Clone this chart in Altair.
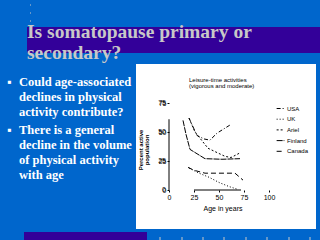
import altair as alt
import pandas as pd

# ---- data ----
series_names = ["USA", "UK", "Ariel", "Finland", "Canada"]
usa_age = [20, 28, 35, 41, 48, 61]
usa_val = [62, 47, 44, 43, 49, 56]
uk_age = [20, 30, 40, 50, 60, 69]
uk_val = [19, 14.5, 11, 6.5, 3, 0.5]
ariel_age = [20, 26, 39, 56, 62, 71]
ariel_val = [62, 50, 36, 29, 28, 32]
finland_age = [14, 17, 21, 36, 53, 71]
finland_val = [60, 48, 35, 27, 26.5, 27]
canada_age = [19, 25, 36, 50, 66, 74]
canada_val = [19.5, 17, 14.5, 14.5, 14.5, 8.5]
x_ticks = [0, 25, 50, 75, 100]
y_ticks = [0, 25, 50, 75]
frame_x = [25, 72]
frame_y = [0, 61]

slide_title = "Is somatopause primary or\nsecondary?"
bullet_1 = "Could age-associated\ndeclines in physical\nactivity  contribute?"
bullet_2 = "There is a general\ndecline in the volume\nof physical activity\nwith age"
chart_title = "Leisure-time activities\n(vigorous and moderate)"
y_title_1 = "Percent active"
y_title_2 = "population"
x_title = "Age in years"

rows = []
for name, ages, vals in [
    ("USA", usa_age, usa_val),
    ("UK", uk_age, uk_val),
    ("Ariel", ariel_age, ariel_val),
    ("Finland", finland_age, finland_val),
    ("Canada", canada_age, canada_val),
]:
    for a, v in zip(ages, vals):
        rows.append({"country": name, "age": a, "pct": v})
df = pd.DataFrame(rows)
one = pd.DataFrame({"k": [0]})
ytick_df = pd.DataFrame({"v": y_ticks, "lab": [str(t) for t in y_ticks]})

BLUE = "#0066CC"
PURPLE = "#330099"
GREY = "#C8C8C8"

xs = alt.Scale(domain=[0, 100], nice=False)
ys = alt.Scale(domain=[0, 75], nice=False)

axis_common = dict(domain=False, ticks=True, tickSize=2, tickColor="black",
                   labelFontSize=7, labelFont="Liberation Sans", labelColor="black",
                   labelPadding=1, grid=False, title=None, zindex=1,
                   labelOverlap=False, labelFlush=False, labelBound=False)
x_axis = alt.Axis(values=x_ticks, **axis_common)
y_axis = alt.Axis(values=y_ticks, **axis_common)

white_panel = alt.Chart(one).mark_rect(color="white").encode(
    x=alt.value(-33), x2=alt.value(147), y=alt.value(-39), y2=alt.value(126))
title_band = alt.Chart(one).mark_rect(color=PURPLE).encode(
    x=alt.value(-142), x2=alt.value(151), y=alt.value(-76), y2=alt.value(-50))
bottom_band = alt.Chart(one).mark_rect(color=PURPLE).encode(
    x=alt.value(-145), x2=alt.value(-22), y=alt.value(129), y2=alt.value(137))

deco = []
for px in [-9, 13, 34, 55, 77, 98, 120, 141]:
    deco.append(alt.Chart(one).mark_rule(color=GREY, strokeWidth=1).encode(
        x=alt.value(px), y=alt.value(134), y2=alt.value(137)))
for py in [-98, -90, -82]:
    deco.append(alt.Chart(one).mark_rule(color=GREY, strokeWidth=1).encode(
        x=alt.value(-139), x2=alt.value(-138), y=alt.value(py)))

title_text = alt.Chart(one).mark_text(
    font="Liberation Serif", fontWeight="bold", fontSize=19.5, color=GREY,
    align="left", baseline="alphabetic", lineBreak="\n", lineHeight=21.5
).encode(x=alt.value(-142), y=alt.value(-65.5), text=alt.value(slide_title))

bul_style = dict(font="Liberation Serif", fontWeight="bold", fontSize=12.5,
                 color="white", align="left", baseline="alphabetic",
                 lineBreak="\n", lineHeight=15)
b1 = alt.Chart(one).mark_text(**bul_style).encode(
    x=alt.value(-150), y=alt.value(-17), text=alt.value(bullet_1))
b2 = alt.Chart(one).mark_text(**bul_style).encode(
    x=alt.value(-150), y=alt.value(31), text=alt.value(bullet_2))
d1 = alt.Chart(one).mark_text(**bul_style).encode(
    x=alt.value(-162), y=alt.value(-17), text=alt.value("\u25aa"))
d2 = alt.Chart(one).mark_text(**bul_style).encode(
    x=alt.value(-162), y=alt.value(31), text=alt.value("\u25aa"))

small = dict(font="Liberation Sans", color="black")
ctitle = alt.Chart(one).mark_text(
    fontSize=6, align="left", baseline="middle", lineBreak="\n", lineHeight=6.5, **small
).encode(x=alt.value(20), y=alt.value(-23.5), text=alt.value(chart_title))
ytitle1 = alt.Chart(one).mark_text(
    fontSize=6, fontWeight="bold", angle=270, align="center", baseline="middle", **small
).encode(x=alt.value(-28), y=alt.value(47), text=alt.value(y_title_1))
ytitle2 = alt.Chart(one).mark_text(
    fontSize=6, fontWeight="bold", angle=270, align="center", baseline="middle", **small
).encode(x=alt.value(-22), y=alt.value(47), text=alt.value(y_title_2))
xtitle = alt.Chart(one).mark_text(
    fontSize=7, align="center", baseline="middle", **small
).encode(x=alt.value(54), y=alt.value(106), text=alt.value(x_title))

ylabels = alt.Chart(ytick_df).mark_text(
    fontSize=7, align="right", baseline="middle", **small
).encode(x=alt.value(-3), y=alt.Y("v:Q", scale=ys, axis=y_axis), text=alt.Text("lab:N"))

frame_v = alt.Chart(one).mark_rule(color="black", strokeWidth=1).encode(
    x=alt.datum(0, scale=xs, axis=x_axis),
    y=alt.datum(frame_y[0], scale=ys, axis=y_axis), y2=alt.datum(frame_y[1]))
frame_h = alt.Chart(one).mark_rule(color="black", strokeWidth=1).encode(
    y=alt.datum(0, scale=ys, axis=y_axis),
    x=alt.datum(frame_x[0], scale=xs, axis=x_axis), x2=alt.datum(frame_x[1]))

lines = alt.Chart(df).mark_line(color="black", strokeWidth=1).encode(
    x=alt.X("age:Q", scale=xs, axis=x_axis),
    y=alt.Y("pct:Q", scale=ys, axis=y_axis),
    strokeDash=alt.StrokeDash("country:N", scale=alt.Scale(
        domain=series_names,
        range=[[4, 2, 1, 2], [1, 2], [2, 2], [6, 1], [5, 3]]),
        legend=alt.Legend(orient="none", legendX=107, legendY=1, title=None,
                          symbolType="stroke", symbolSize=60, symbolStrokeWidth=1,
                          symbolStrokeColor="black", labelFontSize=6,
                          labelFont="Liberation Sans", labelColor="black",
                          rowPadding=2.7, labelOffset=2, zindex=1)),
    detail="country:N",
    order="age:Q",
)

chart = alt.layer(
    white_panel, title_band, bottom_band, *deco, title_text, b1, b2, d1, d2,
    ctitle, ytitle1, ytitle2, xtitle, lines, frame_v, frame_h, ylabels
).properties(
    width=100, height=87,
    autosize=alt.AutoSizeParams(type="none"),
    padding={"left": 169, "top": 103, "right": 51, "bottom": 50},
    background=BLUE,
).configure_view(stroke=None)

chart.save("out.html", embed_options={"renderer": "svg", "actions": False})
